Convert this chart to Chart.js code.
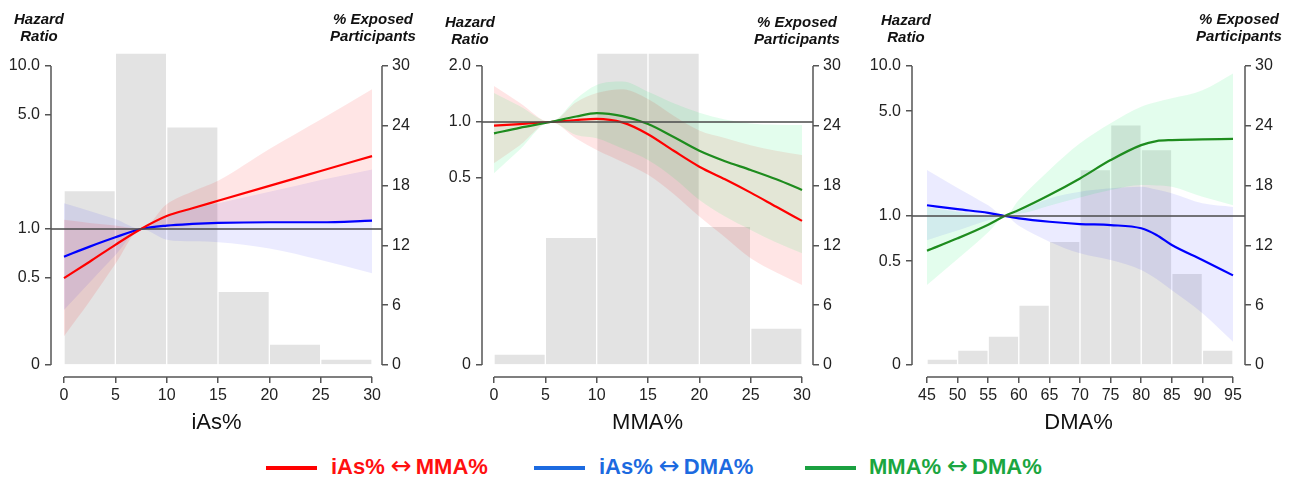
<!DOCTYPE html>
<html>
<head>
<meta charset="utf-8">
<script src="https://cdn.jsdelivr.net/npm/chart.js@4.4.1/dist/chart.umd.min.js"></script>
<style>
  body { margin: 0; width: 1290px; height: 478px; position: relative; background: #fff; overflow: hidden; font-family: "Liberation Sans", Arial, sans-serif; }
  canvas { position: absolute; top: 0; }
  .corner { position: absolute; font: italic bold 15px "Liberation Sans", Arial, sans-serif; line-height: 17px; color: #111; text-align: center; width: 110px; }
  .leg { position: absolute; top: 454px; font: bold 22px "Liberation Sans", Arial, sans-serif; white-space: nowrap; line-height: 25px; height: 25px; }
  .leg i { font: normal 25px "DejaVu Sans", sans-serif; line-height: 0; margin: 0 4px 0 6px; }
  .seg { position: absolute; top: 466px; width: 51px; height: 4px; }
</style>
</head>
<body>
<canvas id="p1" width="430" height="440" style="left:0"></canvas>
<canvas id="p2" width="430" height="440" style="left:430px"></canvas>
<canvas id="p3" width="430" height="440" style="left:860px"></canvas>

<div class="corner" style="left:-16px; top:10px">Hazard<br>Ratio</div>
<div class="corner" style="left:318px; top:10px">% Exposed<br>Participants</div>
<div class="corner" style="left:415px; top:13px">Hazard<br>Ratio</div>
<div class="corner" style="left:742px; top:13px">% Exposed<br>Participants</div>
<div class="corner" style="left:851px; top:11px">Hazard<br>Ratio</div>
<div class="corner" style="left:1184px; top:10px">% Exposed<br>Participants</div>

<div class="seg" style="left:266px; background:#ff0000"></div>
<div class="leg" style="left:331px; color:#ff1010">iAs%<i>↔</i>MMA%</div>
<div class="seg" style="left:534px; background:#1c6ae0"></div>
<div class="leg" style="left:599px; color:#1c6ae0">iAs%<i>↔</i>DMA%</div>
<div class="seg" style="left:805px; background:#1aa040"></div>
<div class="leg" style="left:869px; color:#1aa640">MMA%<i>↔</i>DMA%</div>

<script>
// ---- histogram: % exposed participants per 5-unit bin (bin centres) ----
const bins1 = [2.5, 7.5, 12.5, 17.5, 22.5, 27.5];
const pct1 = [17.5, 31.3, 23.9, 7.4, 2.1, 0.6];
const bins2 = [2.5, 7.5, 12.5, 17.5, 22.5, 27.5];
const pct2 = [1.1, 12.8, 31.3, 31.3, 13.9, 3.7];
const bins3 = [47.5, 52.5, 57.5, 62.5, 67.5, 72.5, 77.5, 82.5, 87.5, 92.5];
const pct3 = [0.6, 1.5, 2.9, 6.0, 12.4, 19.6, 24.1, 21.6, 9.2, 1.5];

// ---- panel 1: iAs% ----
const x1 = [0, 2.5, 5, 7.5, 10, 12.5, 15, 20, 25, 30];
const iasMma1 = [0.50, 0.63, 0.80, 1.0, 1.20, 1.34, 1.49, 1.84, 2.27, 2.80];
const iasMma1Hi = [1.14, 1.09, 1.05, 1.0, 1.42, 1.70, 1.98, 3.1, 4.7, 7.2];
const iasMma1Lo = [0.22, 0.36, 0.61, 1.0, 1.02, 1.05, 1.07, 1.09, 1.10, 1.10];
const iasDma1 = [0.676, 0.78, 0.89, 1.0, 1.05, 1.075, 1.09, 1.10, 1.10, 1.125];
const iasDma1Hi = [1.44, 1.29, 1.15, 1.0, 1.22, 1.33, 1.44, 1.69, 2.0, 2.32];
const iasDma1Lo = [0.318, 0.47, 0.69, 1.0, 0.86, 0.84, 0.83, 0.76, 0.645, 0.535];

// ---- panel 2: MMA% ----
const x2 = [0, 2.5, 5.5, 8, 10, 12.5, 15, 17.5, 20, 22.5, 25, 27.5, 30];
const iasMma2 = [0.955, 0.975, 1.0, 1.025, 1.04, 0.995, 0.86, 0.70, 0.575, 0.492, 0.417, 0.35, 0.294];
const iasMma2Hi = [1.56, 1.27, 1.0, 1.275, 1.43, 1.50, 1.33, 1.08, 0.90, 0.82, 0.75, 0.70, 0.665];
const iasMma2Lo = [0.60, 0.747, 1.0, 0.816, 0.707, 0.61, 0.52, 0.41, 0.31, 0.24, 0.185, 0.155, 0.133];
const mmaDma2 = [0.869, 0.93, 1.0, 1.07, 1.115, 1.075, 0.975, 0.83, 0.70, 0.615, 0.552, 0.492, 0.431];
const mmaDma2Hi = [1.43, 1.22, 1.0, 1.33, 1.58, 1.65, 1.455, 1.26, 1.12, 1.03, 0.98, 0.965, 0.963];
const mmaDma2Lo = [0.53, 0.709, 1.0, 0.85, 0.817, 0.72, 0.625, 0.50, 0.381, 0.31, 0.263, 0.225, 0.197];

// ---- panel 3: DMA% ----
const x3 = [45, 50, 55, 57.7, 60, 65, 70, 75, 80, 82.5, 85, 90, 95];
const iasDma3 = [1.18, 1.11, 1.05, 1.0, 0.965, 0.916, 0.884, 0.87, 0.828, 0.747, 0.64, 0.509, 0.402];
const iasDma3Hi = [2.03, 1.54, 1.178, 1.0, 1.08, 1.31, 1.45, 1.53, 1.57, 1.50, 1.42, 1.215, 1.15];
const iasDma3Lo = [0.69, 0.80, 0.936, 1.0, 0.86, 0.674, 0.564, 0.509, 0.437, 0.38, 0.32, 0.225, 0.145];
const mmaDma3 = [0.587, 0.71, 0.875, 1.0, 1.096, 1.38, 1.78, 2.36, 2.97, 3.16, 3.21, 3.24, 3.27];
const mmaDma3Hi = [1.15, 1.067, 1.004, 1.0, 1.28, 2.03, 3.05, 4.15, 5.35, 5.75, 6.09, 6.9, 8.93];
const mmaDma3Lo = [0.347, 0.516, 0.778, 1.0, 1.03, 1.17, 1.33, 1.49, 1.61, 1.60, 1.57, 1.345, 1.18];

// ---- axis ticks ----
const hrTicks1 = [0.5, 1, 5, 10];
const hrTicks2 = [0.5, 1, 2];
const hrTicks3 = [0.5, 1, 5, 10];
const pctTicks = [0, 6, 12, 18, 24, 30];
const xTicks1 = [0, 5, 10, 15, 20, 25, 30];
const xTicks2 = [0, 5, 10, 15, 20, 25, 30];
const xTicks3 = [45, 50, 55, 60, 65, 70, 75, 80, 85, 90, 95];

const RED = '#ff0000', BLUE = '#0000ff', GREEN = '#1e8c1e';
const RED_BAND = 'rgba(255,0,0,0.10)';
const BLUE_BAND = 'rgba(0,0,255,0.08)';
const GREEN_BAND = 'rgba(0,235,90,0.11)';
const AXIS = '#555';

Chart.defaults.font.family = '"Liberation Sans", Arial, sans-serif';
Chart.defaults.color = '#222';

const pts = (xs, ys) => xs.map((x, i) => ({x: x, y: ys[i]}));

// draws R-style detached axis lines and the HR = 1 reference line
const axisLines = {
    id: 'axisLines',
    afterDatasetsDraw(chart) {
        const {ctx, chartArea: a, scales} = chart;
        const y1 = scales.yL.getPixelForValue(1);
        ctx.save();
        ctx.strokeStyle = '#4a4a4a';
        ctx.lineWidth = 1.4;
        ctx.beginPath();
        ctx.moveTo(a.left, y1);
        ctx.lineTo(a.right, y1);
        ctx.stroke();
        ctx.restore();
    },
    afterDraw(chart) {
        const {ctx, chartArea: a, scales} = chart;
        const yl = scales.yL.ticks, yr = scales.yR.ticks, xt = scales.x.ticks;
        ctx.save();
        ctx.strokeStyle = AXIS;
        ctx.lineWidth = 1.5;
        ctx.beginPath();
        ctx.moveTo(a.left, scales.yL.getPixelForValue(yl[0].value));
        ctx.lineTo(a.left, scales.yL.getPixelForValue(yl[yl.length - 1].value));
        ctx.moveTo(a.right, scales.yR.getPixelForValue(yr[0].value));
        ctx.lineTo(a.right, scales.yR.getPixelForValue(yr[yr.length - 1].value));
        ctx.moveTo(scales.x.getPixelForValue(xt[0].value), a.bottom);
        ctx.lineTo(scales.x.getPixelForValue(xt[xt.length - 1].value), a.bottom);
        ctx.stroke();
        ctx.restore();
    }
};

const bandPair = (xs, hi, lo, color) => [
    {type: 'line', data: pts(xs, hi), yAxisID: 'yL', borderWidth: 0, pointRadius: 0, fill: false, order: 5, cubicInterpolationMode: 'monotone'},
    {type: 'line', data: pts(xs, lo), yAxisID: 'yL', borderWidth: 0, pointRadius: 0, fill: '-1', backgroundColor: color, order: 5, cubicInterpolationMode: 'monotone'}
];

const curve = (xs, ys, color) => ({
    type: 'line', data: pts(xs, ys), yAxisID: 'yL', borderColor: color, borderWidth: 2.2,
    pointRadius: 0, fill: false, order: 1, cubicInterpolationMode: 'monotone'
});

const tickGrid = {drawOnChartArea: false, tickLength: 6, color: AXIS, lineWidth: 1.5, offset: false};

function makePanel(id, p) {
    const datasets = [{
        type: 'bar', data: pts(p.bins, p.pct), yAxisID: 'yR', backgroundColor: '#e3e3e3',
        borderColor: '#ffffff', borderWidth: 1, barPercentage: 1, categoryPercentage: 1, order: 10
    }];
    p.series.forEach(s => {
        datasets.push(...bandPair(p.x, s.hi, s.lo, s.band));
    });
    p.series.forEach(s => {
        datasets.push(curve(p.x, s.hr, s.color));
    });

    new Chart(document.getElementById(id), {
        type: 'bar',
        data: {datasets: datasets},
        plugins: [axisLines],
        options: {
            responsive: false,
            animation: false,
            devicePixelRatio: 1,
            layout: {padding: {top: 50, left: 0, right: 0, bottom: 0}},
            plugins: {legend: {display: false}, tooltip: {enabled: false}},
            scales: {
                x: {
                    type: 'linear', min: p.xMin, max: p.xMax, offset: false,
                    afterBuildTicks: s => { s.ticks = p.xTicks.map(v => ({value: v})); },
                    afterFit: s => { s.height = 63; },
                    ticks: {autoSkip: false, maxRotation: 0, padding: 3, font: {size: 16}, color: '#222'},
                    grid: tickGrid,
                    border: {display: false},
                    title: {display: true, text: p.xTitle, font: {size: 22}, color: '#111', padding: {top: 0, bottom: 4}}
                },
                yL: {
                    type: 'logarithmic', position: 'left', min: p.hrMin, max: p.hrMax,
                    afterBuildTicks: s => { s.ticks = [p.hrZero].concat(p.hrTicks).map(v => ({value: v})); },
                    afterFit: s => { s.width = p.leftW; },
                    ticks: {
                        autoSkip: false, padding: 5, font: {size: 16}, color: '#222',
                        callback: v => v === p.hrZero ? '0' : v.toFixed(1)
                    },
                    grid: tickGrid,
                    border: {display: false}
                },
                yR: {
                    type: 'linear', position: 'right', min: -1.204, max: 31.6,
                    afterBuildTicks: s => { s.ticks = pctTicks.map(v => ({value: v})); },
                    afterFit: s => { s.width = p.rightW; },
                    ticks: {autoSkip: false, padding: 4, font: {size: 16}, color: '#222'},
                    grid: tickGrid,
                    border: {display: false}
                }
            }
        }
    });
}

makePanel('p1', {
    bins: bins1, pct: pct1, x: x1, xTicks: xTicks1, xMin: -1.266, xMax: 30.97, xTitle: 'iAs%',
    hrMin: 0.1236, hrMax: 12.54, hrZero: 0.1465, hrTicks: hrTicks1, leftW: 51, rightW: 48,
    series: [
        {hr: iasMma1, hi: iasMma1Hi, lo: iasMma1Lo, color: RED, band: RED_BAND},
        {hr: iasDma1, hi: iasDma1Hi, lo: iasDma1Lo, color: BLUE, band: BLUE_BAND}
    ]
});

makePanel('p2', {
    bins: bins2, pct: pct2, x: x2, xTicks: xTicks2, xMin: -1.169, xMax: 31.07, xTitle: 'MMA%',
    hrMin: 0.04256, hrMax: 2.438, hrZero: 0.04937, hrTicks: hrTicks2, leftW: 52, rightW: 47,
    series: [
        {hr: mmaDma2, hi: mmaDma2Hi, lo: mmaDma2Lo, color: GREEN, band: GREEN_BAND},
        {hr: iasMma2, hi: iasMma2Hi, lo: iasMma2Lo, color: RED, band: RED_BAND}
    ]
});

makePanel('p3', {
    bins: bins3, pct: pct3, x: x3, xTicks: xTicks3, xMin: 42.55, xMax: 96.96, xTitle: 'DMA%',
    hrMin: 0.08444, hrMax: 12.79, hrZero: 0.1015, hrTicks: hrTicks3, leftW: 52, rightW: 45,
    series: [
        {hr: mmaDma3, hi: mmaDma3Hi, lo: mmaDma3Lo, color: GREEN, band: GREEN_BAND},
        {hr: iasDma3, hi: iasDma3Hi, lo: iasDma3Lo, color: BLUE, band: BLUE_BAND}
    ]
});
</script>
</body>
</html>
